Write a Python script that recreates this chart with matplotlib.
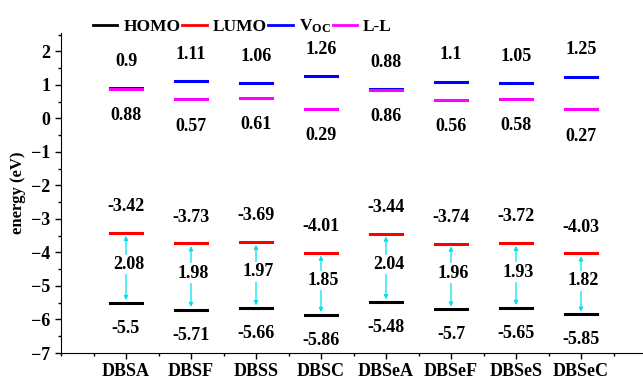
import matplotlib.pyplot as plt
from matplotlib.lines import Line2D
from matplotlib.ticker import MultipleLocator

names = ['DBSA', 'DBSF', 'DBSS', 'DBSC', 'DBSeA', 'DBSeF', 'DBSeS', 'DBSeC']
homo = [-5.5, -5.71, -5.66, -5.86, -5.48, -5.7, -5.65, -5.85]
lumo = [-3.42, -3.73, -3.69, -4.01, -3.44, -3.74, -3.72, -4.03]
gap = [2.08, 1.98, 1.97, 1.85, 2.04, 1.96, 1.93, 1.82]
voc = [0.9, 1.11, 1.06, 1.26, 0.88, 1.1, 1.05, 1.25]
ll = [0.88, 0.57, 0.61, 0.29, 0.86, 0.56, 0.58, 0.27]

plt.rcParams['font.family'] = 'Liberation Serif'
plt.rcParams['font.weight'] = 'bold'
plt.rcParams['mathtext.fontset'] = 'custom'
plt.rcParams['mathtext.rm'] = 'Liberation Serif:bold'
plt.rcParams['mathtext.bf'] = 'Liberation Serif:bold'

fig = plt.figure(figsize=(6.43, 3.8), dpi=100)
ax = fig.add_axes([61 / 643, 27 / 380, 585 / 643, 320 / 380])

hw = 0.24
lw = 2.2
fs = 13
for i in range(len(names)):
    x = i + 1
    ax.plot([x - hw, x + hw], [homo[i], homo[i]], color='black', lw=lw)
    ax.plot([x - hw, x + hw], [lumo[i], lumo[i]], color='red', lw=lw)
    ax.plot([x - hw, x + hw], [voc[i], voc[i]], color='blue', lw=lw)
    ax.plot([x - hw, x + hw], [ll[i], ll[i]], color='#ff00ff', lw=lw)
    ax.annotate('', xy=(x, lumo[i] - 0.08), xytext=(x, homo[i] + 0.08),
                arrowprops=dict(arrowstyle='<|-|>', color='#00e0ee', lw=0.9,
                                mutation_scale=6, shrinkA=0, shrinkB=0))
    ax.text(x, voc[i] + 0.8, str(voc[i]), ha='center', va='center', fontsize=fs, fontweight='bold')
    ax.text(x, ll[i] - 0.8, str(ll[i]), ha='center', va='center', fontsize=fs, fontweight='bold')
    ax.text(x, lumo[i] + 0.78, str(lumo[i]), ha='center', va='center', fontsize=fs, fontweight='bold')
    ax.text(x, homo[i] - 0.76, str(homo[i]), ha='center', va='center', fontsize=fs, fontweight='bold')
    ax.text(x + 0.04, (homo[i] + lumo[i]) / 2 + 0.1, str(gap[i]), ha='center', va='center',
            fontsize=fs, fontweight='bold',
            bbox=dict(facecolor='white', edgecolor='none', pad=1))

ax.set_xlim(0, 9)
ax.set_ylim(-7, 2.55)
ax.set_xticks(range(1, len(names) + 1))
ax.set_xticklabels(names, fontsize=13, fontweight='bold')
ax.xaxis.set_minor_locator(MultipleLocator(0.5))
ax.yaxis.set_major_locator(MultipleLocator(1))
ax.yaxis.set_minor_locator(MultipleLocator(0.5))
ax.tick_params(axis='y', labelsize=13)
ax.tick_params(which='major', length=4, width=1)
ax.tick_params(which='minor', length=2.5, width=1)
ax.set_ylabel('energy (eV)', fontsize=12, fontweight='bold', labelpad=4)
ax.spines['top'].set_visible(False)
ax.spines['right'].set_visible(False)

handles = [Line2D([], [], color=c, lw=2) for c in ['black', 'red', 'blue', '#ff00ff']]
labels = ['HOMO', 'LUMO', r'$\mathrm{V_{OC}}$', 'L-L']
fig.legend(handles, labels, ncol=4, loc='upper left', bbox_to_anchor=(93 / 643, 1 - 18 / 380),
           frameon=False, borderpad=0, borderaxespad=0, handlelength=1.4,
           handletextpad=0.35, columnspacing=0.1, prop={'weight': 'bold', 'size': 12.5})

fig.savefig('out.png', dpi=100)
